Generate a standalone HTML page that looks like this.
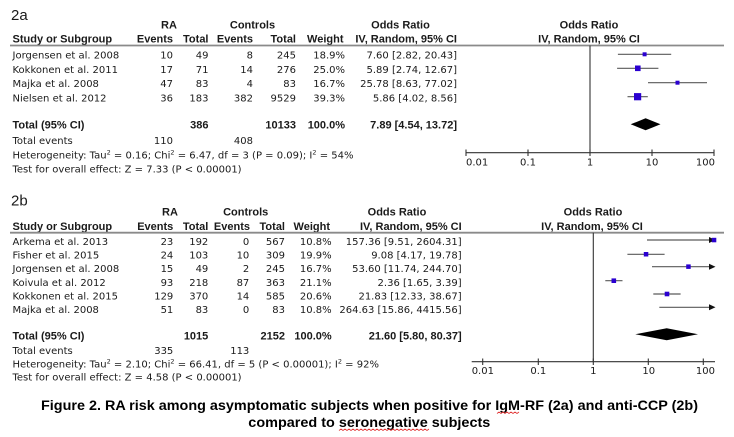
<!DOCTYPE html>
<html><head><meta charset="utf-8"><style>
html,body{margin:0;padding:0;background:#fff;}
svg{display:block;}
text{font-family:"DejaVu Sans","Liberation Sans",Arial,sans-serif;font-size:10px;fill:#1a1a1a;}
.b{font-family:"Liberation Sans",Arial,sans-serif;font-size:11px;font-weight:bold;}
.e{text-anchor:end;}
.m{text-anchor:middle;}
.ci{stroke:#5a5a5a;stroke-width:1.2;}
.ax{stroke:#333;stroke-width:1.1;}
.sq{fill:#2a00d0;}
</style></head><body>
<svg width="734" height="437" viewBox="0 0 734 437" xmlns="http://www.w3.org/2000/svg">
<rect width="734" height="437" fill="#fff"/>

<!-- ===================== 2a ===================== -->
<text x="11" y="20" style="font-family:'Liberation Sans',Arial,sans-serif;font-size:15px">2a</text>
<text class="b m" x="169" y="28.5">RA</text>
<text class="b m" x="252.5" y="28.5">Controls</text>
<text class="b m" x="400.5" y="28.5">Odds Ratio</text>
<text class="b m" x="589" y="28.5">Odds Ratio</text>
<text class="b" x="12.5" y="42.5">Study or Subgroup</text>
<text class="b e" x="173" y="42.5">Events</text>
<text class="b e" x="208.5" y="42.5">Total</text>
<text class="b e" x="253" y="42.5">Events</text>
<text class="b e" x="296" y="42.5">Total</text>
<text class="b e" x="343.5" y="42.5">Weight</text>
<text class="b e" x="457" y="42.5">IV, Random, 95% CI</text>
<text class="b m" x="589" y="42.5">IV, Random, 95% CI</text>
<line x1="10" y1="45.5" x2="724" y2="45.5" stroke="#8a8a8a" stroke-width="1.8"/>

<g>
<text x="12.5" y="58.5">Jorgensen et al. 2008</text>
<text class="e" x="173" y="58.5">10</text><text class="e" x="208.5" y="58.5">49</text>
<text class="e" x="253" y="58.5">8</text><text class="e" x="296" y="58.5">245</text>
<text class="e" x="345" y="58.5">18.9%</text><text class="e" x="457" y="58.5">7.60 [2.82, 20.43]</text>

<text x="12.5" y="72.8">Kokkonen et al. 2011</text>
<text class="e" x="173" y="72.8">17</text><text class="e" x="208.5" y="72.8">71</text>
<text class="e" x="253" y="72.8">14</text><text class="e" x="296" y="72.8">276</text>
<text class="e" x="345" y="72.8">25.0%</text><text class="e" x="457" y="72.8">5.89 [2.74, 12.67]</text>

<text x="12.5" y="87.1">Majka et al. 2008</text>
<text class="e" x="173" y="87.1">47</text><text class="e" x="208.5" y="87.1">83</text>
<text class="e" x="253" y="87.1">4</text><text class="e" x="296" y="87.1">83</text>
<text class="e" x="345" y="87.1">16.7%</text><text class="e" x="457" y="87.1">25.78 [8.63, 77.02]</text>

<text x="12.5" y="101.4">Nielsen et al. 2012</text>
<text class="e" x="173" y="101.4">36</text><text class="e" x="208.5" y="101.4">183</text>
<text class="e" x="253" y="101.4">382</text><text class="e" x="296" y="101.4">9529</text>
<text class="e" x="345" y="101.4">39.3%</text><text class="e" x="457" y="101.4">5.86 [4.02, 8.56]</text>

<text class="b" x="12.5" y="128.3">Total (95% CI)</text>
<text class="b e" x="208.5" y="128.3">386</text>
<text class="b e" x="296" y="128.3">10133</text>
<text class="b e" x="345" y="128.3">100.0%</text>
<text class="b e" x="457" y="128.3">7.89 [4.54, 13.72]</text>

<text x="12.5" y="144">Total events</text>
<text class="e" x="173" y="144">110</text>
<text class="e" x="253" y="144">408</text>
<text x="12.5" y="158.3">Heterogeneity: Tau<tspan dy="-4" style="font-size:6.5px">2</tspan><tspan dy="4"> = 0.16; Chi</tspan><tspan dy="-4" style="font-size:6.5px">2</tspan><tspan dy="4"> = 6.47, df = 3 (P = 0.09); I</tspan><tspan dy="-4" style="font-size:6.5px">2</tspan><tspan dy="4"> = 54%</tspan></text>
<text x="12.5" y="172.3">Test for overall effect: Z = 7.33 (P &lt; 0.00001)</text>
</g>

<!-- forest 2a -->
<line class="ax" x1="590" y1="45.5" x2="590" y2="152.7"/>
<line class="ax" x1="466" y1="152.7" x2="714" y2="152.7"/>
<line class="ax" x1="466" y1="149.5" x2="466" y2="156"/>
<line class="ax" x1="528" y1="149.5" x2="528" y2="156"/>
<line class="ax" x1="590" y1="149.5" x2="590" y2="156"/>
<line class="ax" x1="652" y1="149.5" x2="652" y2="156"/>
<line class="ax" x1="714" y1="149.5" x2="714" y2="156"/>
<text x="466" y="165.7">0.01</text>
<text class="m" x="528" y="165.7">0.1</text>
<text class="m" x="590" y="165.7">1</text>
<text class="m" x="652" y="165.7">10</text>
<text class="e" x="715" y="165.7">100</text>

<line class="ci" x1="617.9" y1="54.3" x2="671.2" y2="54.3"/>
<rect class="sq" x="642.6" y="52.3" width="4" height="4"/>
<line class="ci" x1="617.1" y1="68.3" x2="658.4" y2="68.3"/>
<rect class="sq" x="635" y="65.5" width="5.6" height="5.6"/>
<line class="ci" x1="648" y1="82.7" x2="707" y2="82.7"/>
<rect class="sq" x="675.5" y="80.7" width="4" height="4"/>
<line class="ci" x1="627.5" y1="96.7" x2="647.8" y2="96.7"/>
<rect class="sq" x="634" y="93.1" width="7.2" height="7.2"/>
<polygon points="630.7,124.3 645.6,118.3 660.5,124.3 645.6,130.3" fill="#000"/>

<!-- ===================== 2b ===================== -->
<text x="11" y="205.5" style="font-family:'Liberation Sans',Arial,sans-serif;font-size:15px">2b</text>
<text class="b m" x="170" y="215.7">RA</text>
<text class="b m" x="245.7" y="215.7">Controls</text>
<text class="b m" x="397" y="215.7">Odds Ratio</text>
<text class="b m" x="593" y="215.7">Odds Ratio</text>
<text class="b" x="12.5" y="230">Study or Subgroup</text>
<text class="b e" x="173.3" y="230">Events</text>
<text class="b e" x="208.3" y="230">Total</text>
<text class="b e" x="250" y="230">Events</text>
<text class="b e" x="285" y="230">Total</text>
<text class="b e" x="330" y="230">Weight</text>
<text class="b e" x="461.7" y="230">IV, Random, 95% CI</text>
<text class="b m" x="592" y="230">IV, Random, 95% CI</text>
<line x1="10" y1="232.7" x2="724" y2="232.7" stroke="#8a8a8a" stroke-width="1.8"/>

<g>
<text x="12.5" y="245">Arkema et al. 2013</text>
<text class="e" x="173.3" y="245">23</text><text class="e" x="208.3" y="245">192</text>
<text class="e" x="249.3" y="245">0</text><text class="e" x="285" y="245">567</text>
<text class="e" x="331.7" y="245">10.8%</text><text class="e" x="461.7" y="245">157.36 [9.51, 2604.31]</text>

<text x="12.5" y="258.6">Fisher et al. 2015</text>
<text class="e" x="173.3" y="258.6">24</text><text class="e" x="208.3" y="258.6">103</text>
<text class="e" x="249.3" y="258.6">10</text><text class="e" x="285" y="258.6">309</text>
<text class="e" x="331.7" y="258.6">19.9%</text><text class="e" x="461.7" y="258.6">9.08 [4.17, 19.78]</text>

<text x="12.5" y="272.2">Jorgensen et al. 2008</text>
<text class="e" x="173.3" y="272.2">15</text><text class="e" x="208.3" y="272.2">49</text>
<text class="e" x="249.3" y="272.2">2</text><text class="e" x="285" y="272.2">245</text>
<text class="e" x="331.7" y="272.2">16.7%</text><text class="e" x="461.7" y="272.2">53.60 [11.74, 244.70]</text>

<text x="12.5" y="285.8">Koivula et al. 2012</text>
<text class="e" x="173.3" y="285.8">93</text><text class="e" x="208.3" y="285.8">218</text>
<text class="e" x="249.3" y="285.8">87</text><text class="e" x="285" y="285.8">363</text>
<text class="e" x="331.7" y="285.8">21.1%</text><text class="e" x="461.7" y="285.8">2.36 [1.65, 3.39]</text>

<text x="12.5" y="299.4">Kokkonen et al. 2015</text>
<text class="e" x="173.3" y="299.4">129</text><text class="e" x="208.3" y="299.4">370</text>
<text class="e" x="249.3" y="299.4">14</text><text class="e" x="285" y="299.4">585</text>
<text class="e" x="331.7" y="299.4">20.6%</text><text class="e" x="461.7" y="299.4">21.83 [12.33, 38.67]</text>

<text x="12.5" y="313">Majka et al. 2008</text>
<text class="e" x="173.3" y="313">51</text><text class="e" x="208.3" y="313">83</text>
<text class="e" x="249.3" y="313">0</text><text class="e" x="285" y="313">83</text>
<text class="e" x="331.7" y="313">10.8%</text><text class="e" x="461.7" y="313">264.63 [15.86, 4415.56]</text>

<text class="b" x="12.5" y="339.7">Total (95% CI)</text>
<text class="b e" x="208.3" y="339.7">1015</text>
<text class="b e" x="285" y="339.7">2152</text>
<text class="b e" x="331.7" y="339.7">100.0%</text>
<text class="b e" x="461.7" y="339.7">21.60 [5.80, 80.37]</text>

<text x="12.5" y="354">Total events</text>
<text class="e" x="173.3" y="354">335</text>
<text class="e" x="249.3" y="354">113</text>
<text x="12.5" y="367.3">Heterogeneity: Tau<tspan dy="-4" style="font-size:6.5px">2</tspan><tspan dy="4"> = 2.10; Chi</tspan><tspan dy="-4" style="font-size:6.5px">2</tspan><tspan dy="4"> = 66.41, df = 5 (P &lt; 0.00001); I</tspan><tspan dy="-4" style="font-size:6.5px">2</tspan><tspan dy="4"> = 92%</tspan></text>
<text x="12.5" y="380.7">Test for overall effect: Z = 4.58 (P &lt; 0.00001)</text>
</g>

<!-- forest 2b -->
<line class="ax" x1="593.3" y1="232.7" x2="593.3" y2="361.7"/>
<line class="ax" x1="471.7" y1="361.7" x2="715" y2="361.7"/>
<line class="ax" x1="482.7" y1="358.5" x2="482.7" y2="365"/>
<line class="ax" x1="538.3" y1="358.5" x2="538.3" y2="365"/>
<line class="ax" x1="593.3" y1="358.5" x2="593.3" y2="365"/>
<line class="ax" x1="648.3" y1="358.5" x2="648.3" y2="365"/>
<line class="ax" x1="703.3" y1="358.5" x2="703.3" y2="365"/>
<text x="471.7" y="374">0.01</text>
<text class="m" x="538.3" y="374">0.1</text>
<text class="m" x="593.3" y="374">1</text>
<text class="m" x="648.8" y="374">10</text>
<text class="e" x="715" y="374">100</text>

<line class="ci" x1="647" y1="240" x2="710" y2="240"/>
<polygon points="709,237 715.5,240 709,243" fill="#111"/>
<rect class="sq" x="711.8" y="237.8" width="4.5" height="4.5"/>

<line class="ci" x1="627.4" y1="254.3" x2="664.6" y2="254.3"/>
<rect class="sq" x="643.8" y="252" width="4.5" height="4.5"/>

<line class="ci" x1="652" y1="266.7" x2="710" y2="266.7"/>
<polygon points="709,263.7 715.5,266.7 709,269.7" fill="#111"/>
<rect class="sq" x="686.2" y="264.4" width="4.5" height="4.5"/>

<line class="ci" x1="605.3" y1="280.7" x2="622.5" y2="280.7"/>
<rect class="sq" x="611.5" y="278.4" width="4.6" height="4.6"/>

<line class="ci" x1="653.3" y1="294" x2="680.6" y2="294"/>
<rect class="sq" x="664.7" y="291.7" width="4.6" height="4.6"/>

<line class="ci" x1="659.3" y1="307.3" x2="710" y2="307.3"/>
<polygon points="709,304.3 715.5,307.3 709,310.3" fill="#111"/>

<polygon points="635.3,334.3 666.7,328.3 698,334.3 666.7,340.3" fill="#000"/>

<!-- caption -->
<text x="41" y="410" textLength="657" lengthAdjust="spacingAndGlyphs" style="font-family:'Liberation Sans',Arial,sans-serif;font-weight:bold;font-size:13.5px;fill:#000">Figure 2. RA risk among asymptomatic subjects when positive for IgM-RF (2a) and anti-CCP (2b)</text>
<text x="248.3" y="427" textLength="242" lengthAdjust="spacingAndGlyphs" style="font-family:'Liberation Sans',Arial,sans-serif;font-weight:bold;font-size:13.5px;fill:#000">compared to seronegative subjects</text>
<polyline points="497,413.5 499,412 501,413.5 503,412 505,413.5 507,412 509,413.5 511,412 513,413.5 515,412 517,413.5 519,412" fill="none" stroke="#e03030" stroke-width="0.8"/>
<polyline points="339,430.5 341,429 343,430.5 345,429 347,430.5 349,429 351,430.5 353,429 355,430.5 357,429 359,430.5 361,429 363,430.5 365,429 367,430.5 369,429 371,430.5 373,429 375,430.5 377,429 379,430.5 381,429 383,430.5 385,429 387,430.5 389,429 391,430.5 393,429 395,430.5 397,429 399,430.5 401,429 403,430.5 405,429 407,430.5 409,429 411,430.5 413,429 415,430.5 417,429 419,430.5 421,429 423,430.5 425,429 427,430.5 429,429" fill="none" stroke="#e03030" stroke-width="0.8"/>
</svg>
</body></html>
